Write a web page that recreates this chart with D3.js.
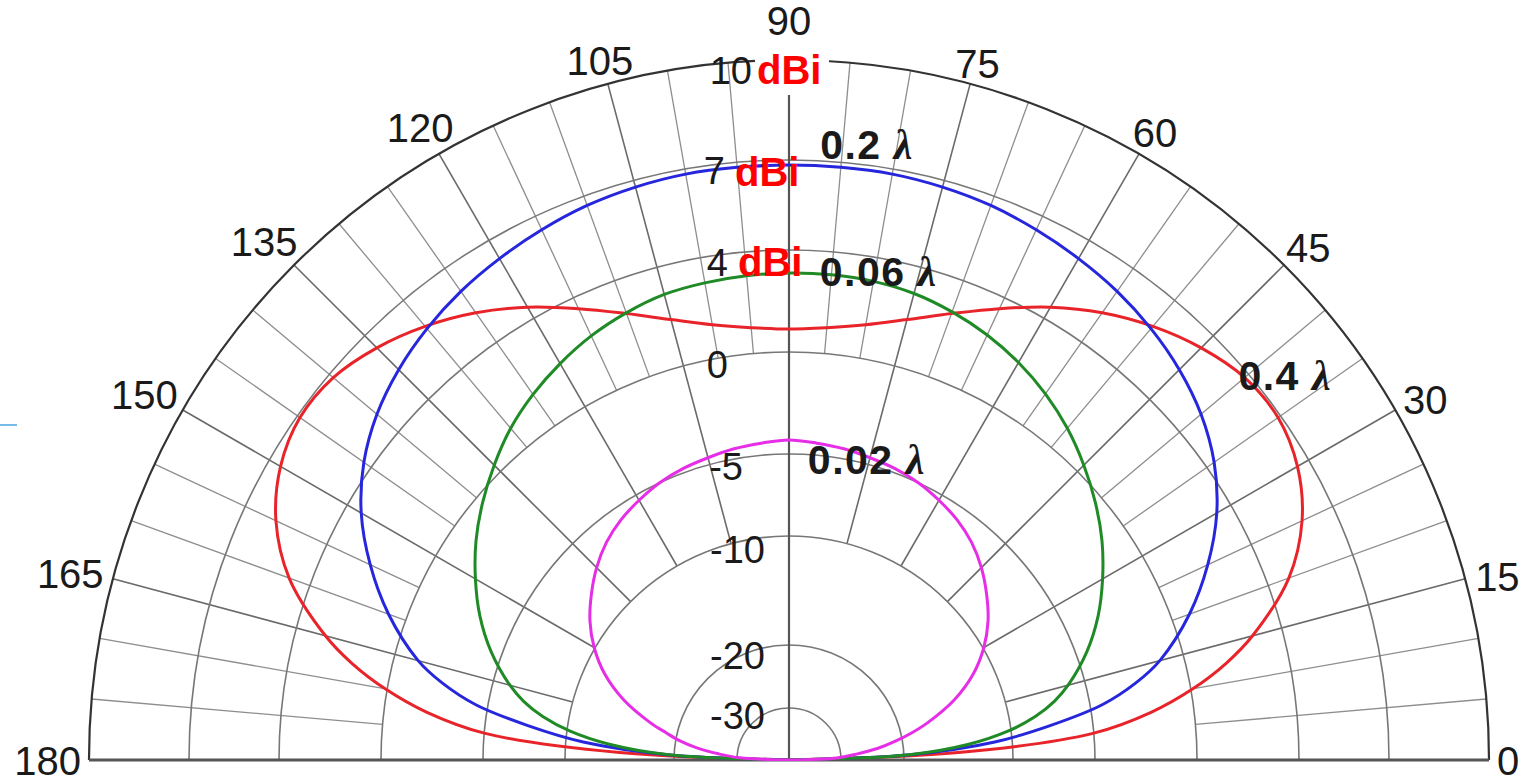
<!DOCTYPE html>
<html><head><meta charset="utf-8">
<script src="https://cdn.jsdelivr.net/npm/d3@7"></script>
<style>html,body{margin:0;padding:0;background:#fff;overflow:hidden}</style>
</head><body>
<svg id="chart" width="1529" height="784"></svg>
<script>
// ---------- data (elevation angle in degrees, gain in dBi) ----------
const angles = [0,2.5,5,7.5,10,12.5,15,20,25,30,35,40,45,50,55,60,65,70,75,80,85,90,
                95,100,105,110,115,120,125,130,135,140,145,150,155,160,165,167.5,170,172.5,175,177.5,180];
const gain002 = [-50,-31.1,-27.5,-24.0,-21.1,-19.0,-17.4,-14.4,-11.9,-9.94,-8.84,-7.93,-7.07,-6.34,-5.79,-5.37,-5.0,-4.8,-4.66,-4.51,-4.41,-4.31,
                 -4.41,-4.51,-4.66,-4.8,-5.0,-5.37,-5.79,-6.34,-7.07,-7.93,-8.84,-9.94,-11.9,-14.4,-17.4,-19.0,-20.6,-23.5,-27.0,-30.8,-50];
const gain006 = [-50,-19.5,-14.0,-10.3,-8.41,-7.07,-6.04,-4.46,-3.28,-2.25,-1.27,-0.39,0.35,0.98,1.53,2.0,2.39,2.7,2.94,3.06,3.1,3.1,
                 3.06,3.0,2.9,2.66,2.35,1.95,1.5,0.98,0.35,-0.39,-1.27,-2.25,-3.28,-4.46,-6.04,-7.07,-8.41,-10.3,-14.0,-19.5,-50];
const gain02  = [-50,-19.4,-11.6,-7.6,-4.41,-2.6,-1.18,0.71,2.12,3.37,4.3,4.93,5.4,5.77,6.07,6.3,6.5,6.67,6.77,6.83,6.83,6.83,
                 6.83,6.83,6.77,6.67,6.5,6.3,6.07,5.77,5.4,4.93,4.3,3.37,2.12,0.71,-1.18,-2.6,-4.41,-7.6,-11.6,-19.4,-50];
const gain04  = [-50,-15.0,-5.06,-2.1,0.08,1.57,2.82,4.73,5.87,6.57,6.9,6.83,6.43,5.87,5.2,4.43,3.53,2.63,1.88,1.33,1.02,0.9,
                 1.02,1.33,1.88,2.63,3.53,4.43,5.2,5.87,6.43,6.83,6.9,6.57,5.87,4.73,2.82,1.57,0.08,-2.1,-5.06,-15.0,-50];
const seriesLabels = ["0.4 λ","0.2 λ","0.06 λ","0.02 λ"];
const ringValues = [-30,-20,-10,-5,0,4,7,10];
const ringLabels = ["-30","-20","-10","-5","0","4","7","10"];
const angleTicks = [0,15,30,45,60,75,90,105,120,135,150,165,180];
const angleTickLabels = ["0","15","30","45","60","75","90","105","120","135","150","165","180"];
const unitLabel = "dBi";

// ---------- layout ----------
const cx = 789, cy = 760;
const svg = d3.select("#chart");
const g = svg.append("g").attr("transform", `translate(${cx},${cy})`);

// non-linear (log-periodic style) radial scale
const r = d3.scaleLinear()
  .domain([-50,-40,-30,-20,-10,-5,0,4,7,10])
  .range([0,16,52,115,224,306,408,510,600,700])
  .clamp(true);
const R = r(10);
const rad = d => d * Math.PI / 180;
const px = (a, rr) => rr * Math.cos(rad(a));
const py = (a, rr) => -rr * Math.sin(rad(a));

svg.append("defs").append("clipPath").attr("id","upper")
  .append("rect").attr("x",-cx).attr("y",-cy).attr("width",1529).attr("height",cy+1);

// ---------- grid ----------
const grid = g.append("g");
d3.range(5, 180, 5).forEach(a => {
  if (a === 90) return;
  const major = a % 15 === 0;
  const r0 = major ? r(-10) : r(0);
  grid.append("line")
    .attr("x1", px(a, r0)).attr("y1", py(a, r0))
    .attr("x2", px(a, R)).attr("y2", py(a, R))
    .attr("stroke", major ? "#6a6a6a" : "#8e8e8e")
    .attr("stroke-width", major ? 1.6 : 1.3);
});
ringValues.forEach(v => {
  const rr = r(v);
  const p = d3.path();
  p.moveTo(-rr, 0);
  p.arc(0, 0, rr, Math.PI, 2 * Math.PI);
  grid.append("path").attr("d", p.toString()).attr("fill","none")
    .attr("stroke", v === 10 ? "#333" : "#777")
    .attr("stroke-width", v === 10 ? 2.2 : 1.6);
});
grid.append("line").attr("x1",0).attr("y1",0).attr("x2",0).attr("y2",-R)
  .attr("stroke","#555").attr("stroke-width",2.2);
grid.append("line").attr("x1",-R).attr("y1",0).attr("x2",R).attr("y2",0)
  .attr("stroke","#555").attr("stroke-width",3);

// ---------- curves ----------
const line = d3.lineRadial()
  .angle(d => rad(90 - d[0]))
  .radius(d => r(d[1]))
  .curve(d3.curveCatmullRom.alpha(0.5));
const series = [
  {vals: gain04,  color: "#e8242a"},
  {vals: gain02,  color: "#2626dc"},
  {vals: gain006, color: "#1f8a26"},
  {vals: gain002, color: "#e62ee6"}
];
const curves = g.append("g").attr("clip-path","url(#upper)");
series.forEach(s => {
  curves.append("path")
    .attr("d", line(angles.map((a, i) => [a, s.vals[i]])))
    .attr("fill","none").attr("stroke", s.color).attr("stroke-width", 3)
    .attr("stroke-linejoin","round");
});

// ---------- angle labels ----------
const labFont = "'Liberation Sans', Arial, Helvetica, sans-serif";
angleTicks.forEach((a, i) => {
  const t = g.append("text").text(angleTickLabels[i])
    .attr("font-family", labFont).attr("font-size", 40).attr("fill","#1a1a1a")
    .attr("text-anchor","middle").attr("dominant-baseline","central");
  const w = t.node().getComputedTextLength();
  const h = 30;
  const c = Math.abs(Math.cos(rad(a))), s = Math.abs(Math.sin(rad(a)));
  let d = R + 8 + c * w / 2 + s * h / 2;
  if (a === 90) d += 16;
  let x = px(a, d), y = py(a, d);
  if (a === 0 || a === 180) y += 1;
  else if (a !== 90) y += 7;
  t.attr("x", x).attr("y", y);
});

// ---------- ring (dB) labels ----------
const ringRight = {"-30":-24, "-20":-24, "-10":-24, "-5":-46, "0":-61, "4":-61, "7":-64, "10":-37};
const ringOff = {"-30":8, "-20":11, "-10":14, "-5":13, "0":13, "4":13, "7":11, "10":11};
g.append("rect").attr("x", -34).attr("y", -R - 10).attr("width", 74).attr("height", 45).attr("fill","#fff");
ringValues.forEach((v, i) => {
  const lab = ringLabels[i];
  g.append("text").text(lab)
    .attr("x", ringRight[lab]).attr("y", -r(v) + ringOff[lab])
    .attr("font-family", labFont).attr("font-size", 38).attr("fill","#1a1a1a")
    .attr("text-anchor","end").attr("dominant-baseline","central");
});
const unitAt = {"10": -32, "7": -54, "4": -51};
[10, 7, 4].forEach(v => {
  g.append("text").text(unitLabel)
    .attr("x", unitAt[String(v)]).attr("y", -r(v) + (v === 10 ? 10 : 12))
    .attr("font-family", labFont).attr("font-size", 40).attr("font-weight","bold")
    .attr("fill","#ff0000").attr("dominant-baseline","central");
});

// ---------- series labels (anchored in polar coordinates) ----------
const labelPos = [
  {ang: 40.5, db: 6.7}, {ang: 87.1, db: 7.48}, {ang: 86.4, db: 3.18}, {ang: 86.4, db: -5.33}
];
series.forEach((s, i) => {
  const lp = labelPos[i];
  const x = px(lp.ang, r(lp.db)), y = py(lp.ang, r(lp.db));
  const parts = seriesLabels[i].split(" ");
  const t = g.append("text").attr("x", x).attr("y", y)
    .attr("font-family", labFont).attr("font-size", 41).attr("font-weight","bold")
    .attr("letter-spacing", 1.5)
    .attr("fill","#1a1a1a").attr("dominant-baseline","central");
  t.append("tspan").text(parts[0]);
  t.append("tspan").text(" " + parts[1]).attr("font-family","'Liberation Serif', 'DejaVu Serif', serif")
    .attr("font-style","italic").attr("font-size", 42);
});

svg.append("line").attr("x1",0).attr("y1",425).attr("x2",17).attr("y2",425)
  .attr("stroke","#4aa3e0").attr("stroke-width",1.5);
</script>
</body></html>
